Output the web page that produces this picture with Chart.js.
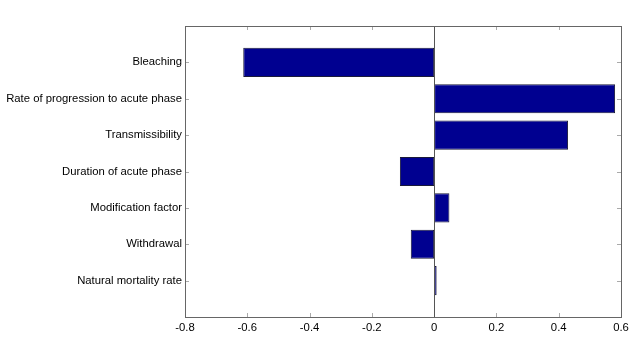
<!DOCTYPE html>
<html>
<head>
<meta charset="utf-8">
<script src="https://cdn.jsdelivr.net/npm/chart.js@4/dist/chart.umd.min.js"></script>
<style>
  html, body { margin: 0; padding: 0; background: #fff; }
  #wrap { width: 642px; height: 348px; }
</style>
</head>
<body>
<div id="wrap"><canvas id="chart" width="642" height="348"></canvas></div>
<script>
// categorias de arriba hacia abajo
const categories = [
  'Bleaching',
  'Rate of progression to acute phase',
  'Transmissibility',
  'Duration of acute phase',
  'Modification factor',
  'Withdrawal',
  'Natural mortality rate'
];
const sensitivity = [-0.613, 0.581, 0.43, -0.11, 0.049, -0.075, 0.008];
const xTicks = [-0.8, -0.6, -0.4, -0.2, 0, 0.2, 0.4, 0.6];

// posicion en el eje y (1 = abajo, 7 = arriba), como barh de MATLAB
const points = categories.map((c, i) => ({ x: sensitivity[i], y: categories.length - i }));

const FONT = { family: 'Liberation Sans, Arial, sans-serif', size: 11.3 };

// caja y marcas hacia adentro, estilo MATLAB
const boxPlugin = {
  id: 'box',
  afterDatasetsDraw(chart) {
    const { ctx, chartArea: a, scales } = chart;
    ctx.save();
    ctx.lineWidth = 1;
    // marcas
    ctx.strokeStyle = '#aaaaaa';
    ctx.beginPath();
    xTicks.forEach(v => {
      const px = Math.round(scales.x.getPixelForValue(v)) + 0.5;
      ctx.moveTo(px, a.top); ctx.lineTo(px, a.top + 4);
      ctx.moveTo(px, a.bottom); ctx.lineTo(px, a.bottom - 4);
    });
    categories.forEach((c, i) => {
      const py = Math.round(scales.y.getPixelForValue(categories.length - i)) + 0.5;
      ctx.moveTo(a.left, py); ctx.lineTo(a.left + 4, py);
      ctx.moveTo(a.right, py); ctx.lineTo(a.right - 4, py);
    });
    ctx.stroke();
    // linea base en cero
    ctx.strokeStyle = '#555555';
    const zx = Math.round(scales.x.getPixelForValue(0)) + 0.5;
    ctx.beginPath();
    ctx.moveTo(zx, a.top); ctx.lineTo(zx, a.bottom);
    ctx.stroke();
    // caja
    ctx.strokeStyle = '#666666';
    ctx.strokeRect(Math.round(a.left) + 0.5, Math.round(a.top) + 0.5,
      Math.round(a.right - a.left), Math.round(a.bottom - a.top));
    ctx.restore();
  }
};

new Chart(document.getElementById('chart').getContext('2d'), {
  type: 'bar',
  data: {
    datasets: [{
      data: points,
      backgroundColor: '#000090',
      borderColor: '#1a1a3a',
      borderWidth: 1,
      borderSkipped: false,
      barPercentage: 0.8,
      categoryPercentage: 1
    }]
  },
  options: {
    indexAxis: 'y',
    responsive: false,
    animation: false,
    layout: { padding: { top: 26, right: 21, left: 0, bottom: 0 } },
    plugins: { legend: { display: false }, tooltip: { enabled: false } },
    scales: {
      x: {
        type: 'linear',
        min: -0.8,
        max: 0.6,
        afterBuildTicks: s => { s.ticks = xTicks.map(v => ({ value: v })); },
        afterFit: s => { s.height = 31; },
        grid: { display: false, drawTicks: false },
        border: { display: false },
        ticks: {
          color: '#000',
          font: FONT,
          padding: 4,
          maxRotation: 0,
          callback: v => (Math.abs(v) < 1e-9 ? '0' : String(Math.round(v * 10) / 10))
        }
      },
      y: {
        type: 'linear',
        min: 0,
        max: 8,
        offset: false,
        afterBuildTicks: s => { s.ticks = categories.map((c, i) => ({ value: categories.length - i })); },
        afterFit: s => { s.width = 185; },
        grid: { display: false, drawTicks: false, offset: false },
        border: { display: false },
        ticks: {
          color: '#000',
          font: FONT,
          padding: 3,
          callback: v => categories[categories.length - v] || ''
        }
      }
    }
  },
  plugins: [boxPlugin]
});
</script>
</body>
</html>
